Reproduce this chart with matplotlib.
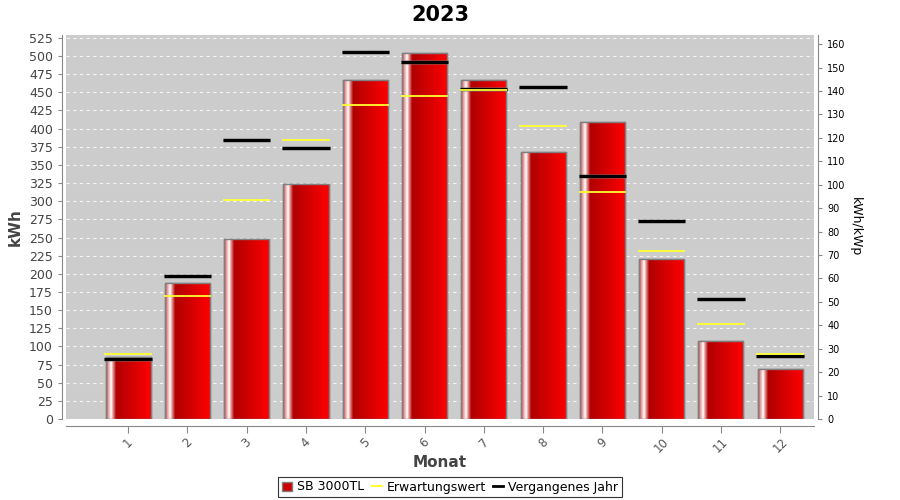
import numpy as np
import matplotlib.pyplot as plt
from matplotlib.colors import LinearSegmentedColormap
from matplotlib.lines import Line2D
from matplotlib.patches import Patch

months = ["1", "2", "3", "4", "5", "6", "7", "8", "9", "10", "11", "12"]
ertrag = [86, 188, 248, 324, 467, 504, 467, 368, 409, 220, 108, 69]
erwartung = [90, 169, 302, 384, 432, 445, 453, 404, 313, 231, 131, 90]
vorjahr = [83, 197, 385, 374, 505, 492, 455, 458, 335, 273, 165, 87]
kwp = 3.228

fig = plt.figure(figsize=(9, 5), dpi=100)
ax = fig.add_axes([0.0733, 0.162, 0.831, 0.768])
ax.set_facecolor("#cccccc")
ax2 = ax.twinx()

x = np.arange(len(months))
w = 0.76
bars = ax.bar(x, ertrag, width=w, color="#dd0000", edgecolor="#7f7f7f", linewidth=1, zorder=2)

# gradient fill inside each bar (white highlight on the left)
grad = LinearSegmentedColormap.from_list("bar", [
    (0.0, "#c04040"), (0.05, "#e8a0a0"), (0.11, "#ffffff"), (0.16, "#e08080"),
    (0.22, "#b00000"), (1.0, "#ff0000")])
gx = np.linspace(0, 1, 200).reshape(1, -1)
for b in bars:
    im = ax.imshow(gx, cmap=grad, aspect="auto", zorder=2.5,
                   extent=[b.get_x(), b.get_x() + b.get_width(), 0, b.get_height()])
    im.set_clip_path(b)
for b in bars:
    ax.add_patch(plt.Rectangle((b.get_x(), 0), b.get_width(), b.get_height(),
                               fill=False, edgecolor="#7f7f7f", linewidth=1, zorder=3))

lw = 0.8
ax.hlines(vorjahr, x - lw / 2, x + lw / 2, colors="#777777", linewidth=3.4, zorder=4, alpha=0.5)
ax.hlines(vorjahr, x - lw / 2, x + lw / 2, colors="black", linewidth=2.2, zorder=4)
ax.hlines(erwartung, x - lw / 2, x + lw / 2, colors="#ffff33", linewidth=1.3, zorder=5)

ax.set_xlim(-1.05, 11.57)
ax.set_ylim(0, 529)
ax.set_yticks(np.arange(0, 526, 25))
ax.yaxis.grid(True, color="white", linestyle=(0, (3, 3)), linewidth=0.8, alpha=0.8)
ax.set_axisbelow(True)

ax.set_xticks(x)
ax.set_xticklabels(months)
ax.tick_params(axis="x", length=5, color="#888888", pad=2, labelrotation=45,
               labelsize=8.5, labelcolor="#555555")
ax.tick_params(axis="y", labelsize=9, labelcolor="#444444", length=3, color="#888888")

for s in ["top", "right"]:
    ax.spines[s].set_visible(False)
ax.spines["left"].set_position(("outward", 3))
ax.spines["bottom"].set_position(("outward", 5))
ax.spines["left"].set_color("#888888")
ax.spines["bottom"].set_color("#888888")

ax2.set_ylim(0, 529 / kwp)
ax2.set_yticks(np.arange(0, 161, 10))
ax2.tick_params(axis="y", labelsize=7, length=3, color="#888888")
for s in ["top", "left", "bottom"]:
    ax2.spines[s].set_visible(False)
ax2.spines["right"].set_position(("outward", 3))
ax2.spines["right"].set_color("#888888")
ax2.set_ylabel("kWh/kWp", fontsize=9, rotation=270, labelpad=12)

ax.set_ylabel("kWh", fontsize=11, fontweight="bold", color="#444444", labelpad=4)
ax.set_xlabel("Monat", fontsize=11, fontweight="bold", color="#444444")
ax.xaxis.set_label_coords(0.5, -0.095)
ax.set_title("2023", fontsize=15, fontweight="bold", pad=10)

handles = [
    Patch(facecolor="#cc0000", edgecolor="#7f7f7f", label="SB 3000TL"),
    Line2D([], [], color="#ffff33", linewidth=1.5, label="Erwartungswert"),
    Line2D([], [], color="black", linewidth=2, label="Vergangenes Jahr"),
]
leg = fig.legend(handles=handles, loc="center", bbox_to_anchor=(0.5, 0.026), ncol=3,
                 fontsize=9, frameon=True, fancybox=False, handlelength=0.8,
                 handletextpad=0.4, columnspacing=0.6, borderpad=0.3, edgecolor="black")
leg.get_frame().set_linewidth(0.8)

fig.savefig("out.png", dpi=100)
